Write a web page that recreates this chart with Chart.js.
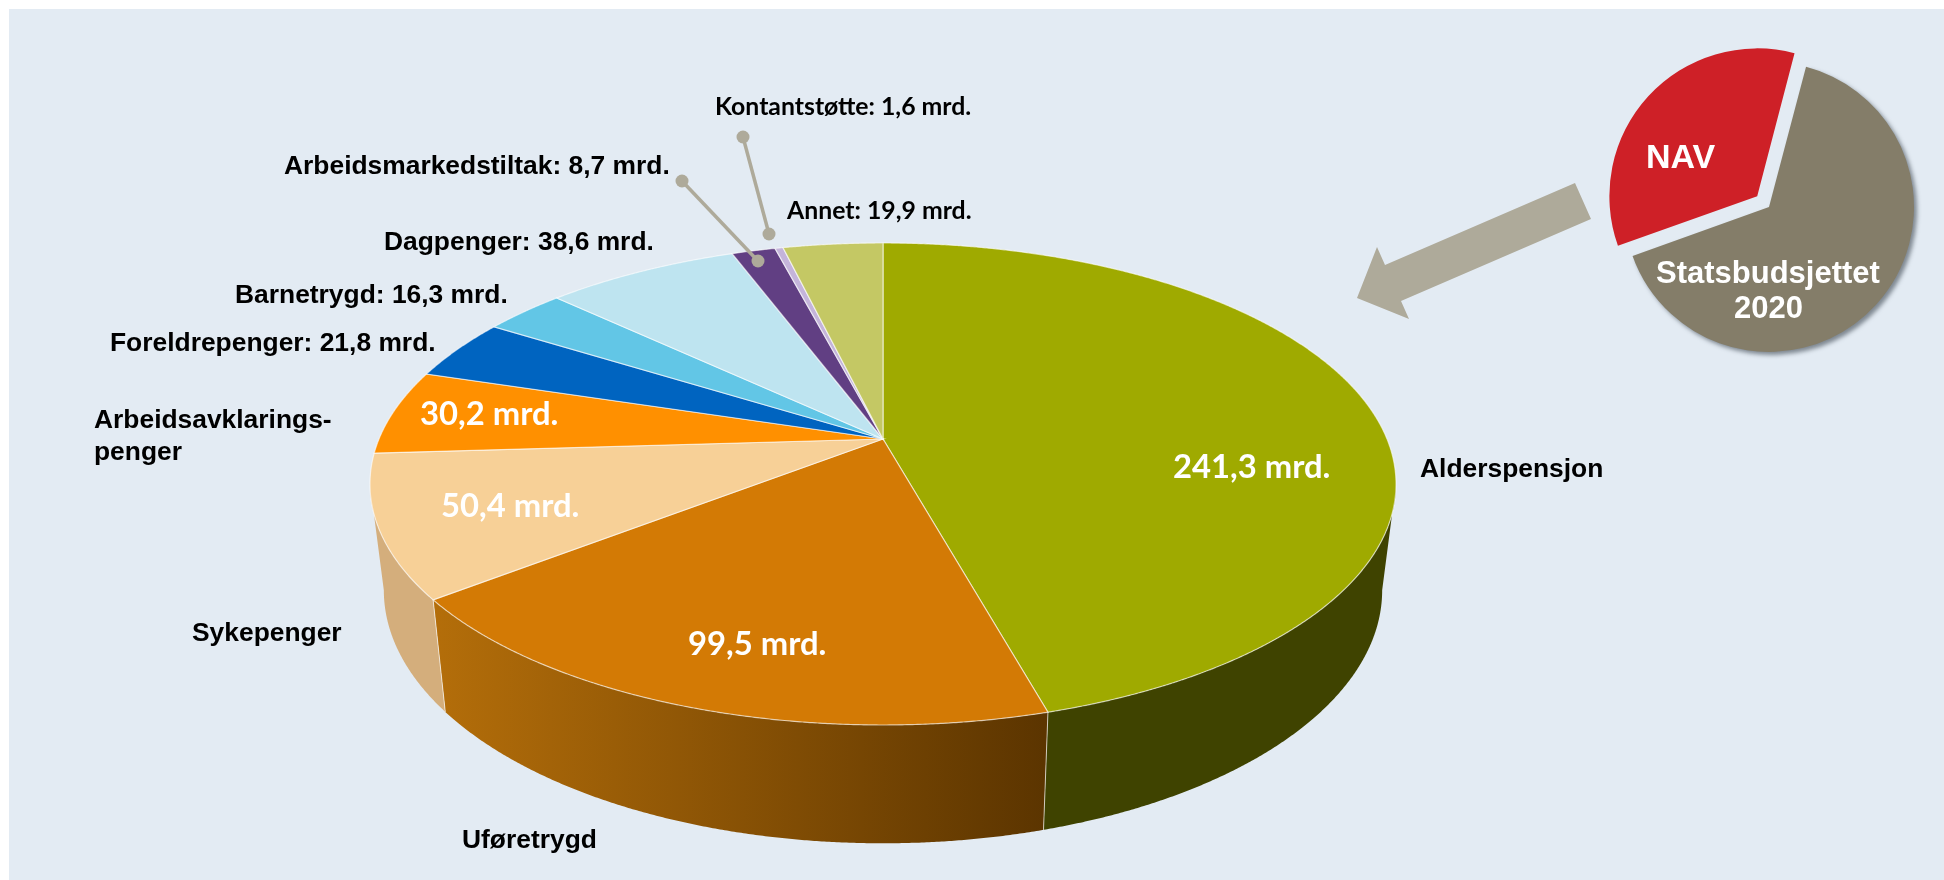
<!DOCTYPE html>
<html>
<head>
<meta charset="utf-8">
<title>NAV 2020</title>
<script src="https://cdn.jsdelivr.net/npm/chart.js@4"></script>
<style>
  html, body { margin: 0; padding: 0; background: #fff; overflow: hidden; }
  #panel { position: absolute; left: 9px; top: 9px; right: 0; bottom: 0; background: #e3ebf3; }
  #pie { position: absolute; left: 0; top: 0; }
  #inset { position: absolute; left: 1599px; top: 37px; }
</style>
</head>
<body>
<div id="panel"></div>
<canvas id="pie" width="1944" height="880"></canvas>
<canvas id="inset" width="340" height="340"></canvas>
<script>
// Data, in mrd. kroner, clockwise from the top of the pie
const categories = ['Alderspensjon', 'Uføretrygd', 'Sykepenger', 'Arbeidsavklaringspenger', 'Foreldrepenger',
    'Barnetrygd', 'Dagpenger', 'Arbeidsmarkedstiltak', 'Kontantstøtte', 'Annet'];
const amounts = [241.3, 99.5, 50.4, 30.2, 21.8, 16.3, 38.6, 8.7, 1.6, 19.9];

// Small pie: share of the state budget, in percent
const budgetParts = ['Statsbudsjettet', 'NAV'];
const budgetShares = [65.4, 34.6];

const sliceColors = ['#9faa00', '#d37a05', '#f7d097', '#ff9000', '#0064c0', '#62c6e6', '#bee4f0', '#613f83', '#c4b4da', '#c4c864'];
const wallColors = ['#3f4300', 'gradient', '#d4ae7c', '#d4ae7c', '#003a70', '#3a7a90', '#7a9aa5', '#3a2650', '#7a7090', '#7a7d40'];

// Perspective of the tilted disc
const tilt = 0.4615;   // vertical squash
const persp = 0.1867;  // how much the near edge grows
const wallX = 0.973, wallY = 1.05, wallDrop = 104;  // lower disc relative to the upper one

function money(v) { return String(v).replace('.', ','); }

// Where the labels go. Text built from the arrays above.
const outerFont = 'bold 26.4px "Liberation Sans"';
const noteFont = 'bold 24.8px Lato';
const valueFont = 'bold 32.8px Lato';
const textSpots = [
    { text: categories[0], x: 1420, y: 477, font: outerFont, color: '#000' },
    { text: categories[1], x: 462, y: 848, font: outerFont, color: '#000' },
    { text: categories[2], x: 192, y: 641, font: outerFont, color: '#000' },
    { text: 'Arbeidsavklarings-', x: 94, y: 428, font: outerFont, color: '#000' },
    { text: 'penger', x: 94, y: 460, font: outerFont, color: '#000' },
    { text: categories[4] + ': ' + money(amounts[4]) + ' mrd.', x: 110, y: 351, font: outerFont, color: '#000' },
    { text: categories[5] + ': ' + money(amounts[5]) + ' mrd.', x: 235, y: 303, font: outerFont, color: '#000' },
    { text: categories[6] + ': ' + money(amounts[6]) + ' mrd.', x: 384, y: 250, font: outerFont, color: '#000' },
    { text: categories[7] + ': ' + money(amounts[7]) + ' mrd.', x: 284, y: 174, font: outerFont, color: '#000' },
    { text: categories[8] + ': ' + money(amounts[8]) + ' mrd.', x: 715, y: 115, font: noteFont, color: '#000' },
    { text: categories[9] + ': ' + money(amounts[9]) + ' mrd.', x: 787, y: 219, font: noteFont, color: '#000' },
    { text: money(amounts[0]) + ' mrd.', x: 1173, y: 478, font: valueFont, color: '#fff' },
    { text: money(amounts[1]) + ' mrd.', x: 688, y: 655, font: valueFont, color: '#fff' },
    { text: money(amounts[2]) + ' mrd.', x: 441, y: 517, font: valueFont, color: '#fff' },
    { text: money(amounts[3]) + ' mrd.', x: 420, y: 425, font: valueFont, color: '#fff' }
];

// Grey leader lines with a dot on each end
const leaders = [
    [743, 137, 769, 234],
    [682, 181, 758, 261]
];
const arrowShape = [[1575, 183], [1591, 219], [1401, 301], [1409, 319], [1357, 298], [1377, 247], [1385, 265]];

// Where an angle on the arc lands on the tilted disc
function onDisc(arc, angle) {
    const u = Math.cos(angle), v = Math.sin(angle);
    const k = 1 - persp * v;
    return {
        x: arc.outerRadius * u / k,
        y: arc.outerRadius * tilt * v / k,
        v: v
    };
}
function lower(p) {
    return { x: p.x * wallX, y: p.y * wallY + wallDrop };
}
function sample(arc, from, to) {
    const pts = [];
    const steps = Math.max(4, Math.ceil((to - from) * 240));
    for (let i = 0; i <= steps; i++) {
        pts.push(onDisc(arc, from + (to - from) * i / steps));
    }
    return pts;
}

const tiltedPie = {
    id: 'tiltedPie',
    beforeDatasetsDraw(chart) {
        const ctx = chart.ctx;
        const arcs = chart.getDatasetMeta(0).data;
        const cx = arcs[0].x, cy = arcs[0].y;
        ctx.save();
        ctx.translate(cx, cy);

        // side walls, only the part of the rim that faces us
        const orange = ctx.createLinearGradient(433 - cx, 0, 1043 - cx, 0);
        orange.addColorStop(0, '#b46e0a');
        orange.addColorStop(1, '#5c3500');
        const frontFrom = Math.asin(persp), frontTo = Math.PI - frontFrom;
        arcs.forEach((arc, i) => {
            const from = Math.max(arc.startAngle, frontFrom), to = Math.min(arc.endAngle, frontTo);
            if (to <= from) return;
            const pts = sample(arc, from, to);
            ctx.beginPath();
            pts.forEach((p, n) => { n ? ctx.lineTo(p.x, p.y) : ctx.moveTo(p.x, p.y); });
            pts.slice().reverse().forEach(p => { const q = lower(p); ctx.lineTo(q.x, q.y); });
            ctx.closePath();
            ctx.fillStyle = wallColors[i] === 'gradient' ? orange : wallColors[i];
            ctx.fill();
        });
        // seams on the front of the wall
        ctx.strokeStyle = 'rgba(255,255,255,0.65)';
        ctx.lineWidth = 1;
        arcs.forEach(arc => {
            const p = onDisc(arc, arc.startAngle);
            if (p.v > 0.3) {
                const q = lower(p);
                ctx.beginPath();
                ctx.moveTo(p.x, p.y);
                ctx.lineTo(q.x, q.y);
                ctx.stroke();
            }
        });

        // top faces
        arcs.forEach((arc, i) => {
            ctx.beginPath();
            ctx.moveTo(0, 0);
            sample(arc, arc.startAngle, arc.endAngle).forEach(p => ctx.lineTo(p.x, p.y));
            ctx.closePath();
            ctx.fillStyle = sliceColors[i];
            ctx.fill();
            ctx.strokeStyle = 'rgba(255,255,255,0.6)';
            ctx.lineWidth = 1.2;
            ctx.stroke();
        });
        ctx.restore();
        return false; // the flat arcs are replaced by the above
    },
    afterDraw(chart) {
        const ctx = chart.ctx;
        ctx.save();

        // arrow
        ctx.fillStyle = '#aeaa9a';
        ctx.beginPath();
        arrowShape.forEach((p, n) => { n ? ctx.lineTo(p[0], p[1]) : ctx.moveTo(p[0], p[1]); });
        ctx.closePath();
        ctx.fill();

        // leaders
        ctx.strokeStyle = '#aeaa9a';
        ctx.lineWidth = 3.5;
        leaders.forEach(l => {
            ctx.beginPath();
            ctx.moveTo(l[0], l[1]);
            ctx.lineTo(l[2], l[3]);
            ctx.stroke();
            ctx.beginPath();
            ctx.arc(l[0], l[1], 6.5, 0, Math.PI * 2);
            ctx.fill();
            ctx.beginPath();
            ctx.arc(l[2], l[3], 6.5, 0, Math.PI * 2);
            ctx.fill();
        });

        // labels
        ctx.textAlign = 'left';
        ctx.textBaseline = 'alphabetic';
        textSpots.forEach(t => {
            ctx.font = t.font;
            ctx.fillStyle = t.color;
            ctx.fillText(t.text, t.x, t.y);
        });
        ctx.restore();
    }
};

new Chart(document.getElementById('pie').getContext('2d'), {
    type: 'pie',
    data: {
        labels: categories,
        datasets: [{ data: amounts, backgroundColor: sliceColors, borderWidth: 0 }]
    },
    options: {
        responsive: false,
        animation: false,
        events: [],
        radius: 504,
        layout: { padding: { right: 178, bottom: 2 } },
        plugins: { legend: { display: false }, tooltip: { enabled: false } }
    },
    plugins: [tiltedPie]
});

// Small pie with the NAV slice pulled out
const insetLook = {
    id: 'insetLook',
    beforeDatasetsDraw(chart) {
        const ctx = chart.ctx;
        const arcs = chart.getDatasetMeta(0).data;
        ctx.save();
        ctx.shadowColor = 'rgba(60,70,80,0.6)';
        ctx.shadowBlur = 4;
        ctx.shadowOffsetX = 3;
        ctx.shadowOffsetY = 3;
        arcs[0].draw(ctx);
        ctx.shadowColor = 'transparent';
        arcs[1].draw(ctx);
        ctx.restore();
        return false;
    },
    afterDraw(chart) {
        const ctx = chart.ctx;
        ctx.save();
        ctx.fillStyle = '#fff';
        ctx.font = 'bold 34px "Liberation Sans"';
        ctx.fillText(budgetParts[1], 47, 131);
        ctx.font = 'bold 31px "Liberation Sans"';
        ctx.fillText(budgetParts[0], 57, 246);
        ctx.fillText('2020', 135, 281);
        ctx.restore();
    }
};

new Chart(document.getElementById('inset').getContext('2d'), {
    type: 'pie',
    data: {
        labels: budgetParts,
        datasets: [{
            data: budgetShares,
            backgroundColor: ['#847d69', '#ce2027'],
            borderWidth: 0,
            offset: [0, 64]
        }]
    },
    options: {
        responsive: false,
        animation: false,
        events: [],
        radius: 145,
        rotation: 14.8,
        plugins: { legend: { display: false }, tooltip: { enabled: false } }
    },
    plugins: [insetLook]
});
</script>
</body>
</html>
